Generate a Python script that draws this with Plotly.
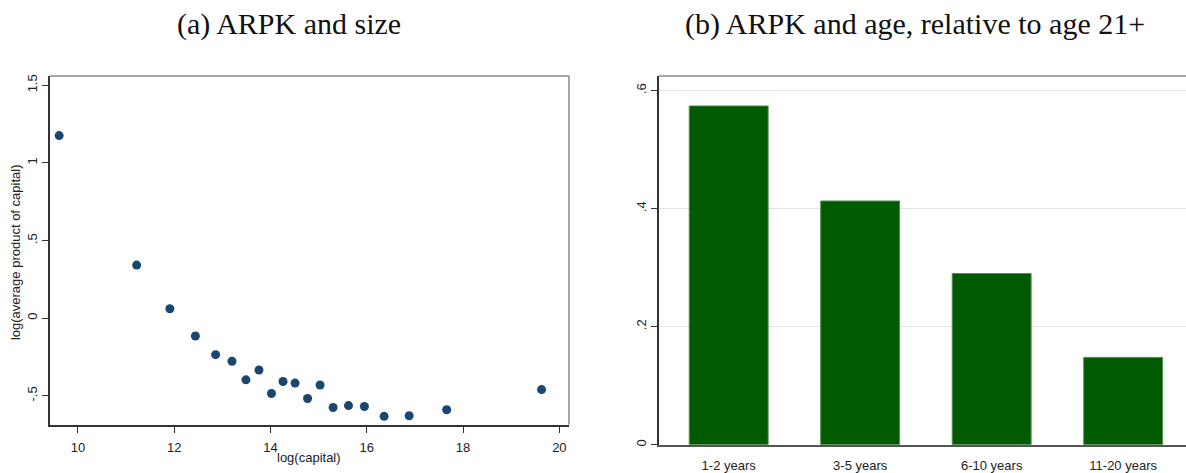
import plotly.graph_objects as go

# Panel (a): ARPK and size
log_capital = [9.61, 11.22, 11.91, 12.44, 12.86, 13.20, 13.49, 13.76, 14.02, 14.26,
               14.51, 14.77, 15.03, 15.30, 15.62, 15.95, 16.36, 16.88, 17.66, 19.63]
log_arpk = [1.176, 0.342, 0.061, -0.115, -0.235, -0.277, -0.397, -0.334, -0.485, -0.408,
            -0.418, -0.517, -0.430, -0.575, -0.563, -0.569, -0.632, -0.628, -0.590, -0.460]

# Panel (b): ARPK and age, relative to age 21+
age_groups = ["1-2 years", "3-5 years", "6-10 years", "11-20 years"]
arpk_rel = [0.574, 0.413, 0.290, 0.148]

xticks_a = [10, 12, 14, 16, 18, 20]
yticks_a = [-0.5, 0, 0.5, 1, 1.5]
yticklabels_a = ["-.5", "0", ".5", "1", "1.5"]
yticks_b = [0, 0.2, 0.4, 0.6]
yticklabels_b = ["0", ".2", ".4", ".6"]

W, H = 1186, 473
def px_x(v): return v / W
def px_y(v): return (H - v) / H

tickfont = dict(family="Liberation Sans, Arial, sans-serif", size=13, color="#222")
titlefont = dict(family="Liberation Serif, serif", size=30, color="#111")

fig = go.Figure()
fig.add_trace(go.Scatter(x=log_capital, y=log_arpk, mode="markers",
                         marker=dict(color="#1a476f", size=9), xaxis="x", yaxis="y",
                         showlegend=False))
fig.add_trace(go.Bar(x=age_groups, y=arpk_rel, width=0.6,
                     marker=dict(color="#005a00", line=dict(color="#4f8f4f", width=1)),
                     xaxis="x2", yaxis="y2", showlegend=False))

fig.update_layout(
    width=W, height=H, autosize=False, margin=dict(l=0, r=0, t=0, b=0),
    paper_bgcolor="white", plot_bgcolor="white",
    xaxis=dict(domain=[px_x(50), px_x(569)], range=[9.42, 20.2], anchor="y",
               tickvals=xticks_a, ticks="outside", ticklen=6, tickcolor="#333",
               showline=True, linecolor="#333", linewidth=1.5, showgrid=False,
               zeroline=False, tickfont=tickfont, ticklabelstandoff=4),
    yaxis=dict(domain=[px_y(432), px_y(75.7)], range=[-0.687, 1.559], anchor="x",
               tickvals=yticks_a, ticktext=yticklabels_a, tickangle=-90,
               ticks="outside", ticklen=6, tickcolor="#333",
               showline=True, linecolor="#333", linewidth=1.5, showgrid=False,
               zeroline=False, tickfont=tickfont),
    xaxis2=dict(domain=[px_x(659), 1.0], range=[-0.53, 3.478], anchor="y2",
                ticks="", showline=True, linecolor="#555", linewidth=1.5,
                showgrid=False, zeroline=False, tickfont=tickfont,
                ticklabelstandoff=8),
    yaxis2=dict(domain=[px_y(452.3), px_y(75.7)], range=[0, 0.6246], anchor="x2",
                tickvals=yticks_b, ticktext=yticklabels_b, tickangle=-90,
                ticks="outside", ticklen=6, tickcolor="#333",
                showline=True, linecolor="#333", linewidth=1.5,
                showgrid=True, gridcolor="#e4e4e4", gridwidth=1,
                zeroline=False, tickfont=tickfont),
    shapes=[
        # frame of panel (a)
        dict(type="line", xref="x domain", yref="y domain", x0=0, x1=1, y0=1, y1=1,
             line=dict(color="#888", width=1.5)),
        dict(type="line", xref="x domain", yref="y domain", x0=1, x1=1, y0=0, y1=1,
             line=dict(color="#888", width=1.5)),
        # top frame of panel (b)
        dict(type="line", xref="x2 domain", yref="y2 domain", x0=0, x1=1, y0=1, y1=1,
             line=dict(color="#888", width=1.5)),
    ],
    annotations=[
        dict(text="(a) ARPK and size", x=px_x(289), y=px_y(22), xref="paper", yref="paper",
             xanchor="center", yanchor="middle", showarrow=False, font=titlefont),
        dict(text="(b) ARPK and age, relative to age 21+", x=px_x(915), y=px_y(22),
             xref="paper", yref="paper", xanchor="center", yanchor="middle",
             showarrow=False, font=titlefont),
        dict(text="log(capital)", x=px_x(309.5), y=px_y(465), xref="paper", yref="paper",
             xanchor="center", yanchor="middle", showarrow=False,
             font=dict(family="Liberation Sans, Arial, sans-serif", size=13, color="#222")),
        dict(text="log(average product of capital)", x=px_x(15), y=px_y(255.5),
             xref="paper", yref="paper", xanchor="center", yanchor="middle",
             showarrow=False, textangle=-90,
             font=dict(family="Liberation Sans, Arial, sans-serif", size=13, color="#222")),
    ],
)

fig.write_html("out.html",
               config={"displayModeBar": False, "responsive": False},
               post_script="document.body.style.margin='0';document.body.style.overflow='hidden';")
